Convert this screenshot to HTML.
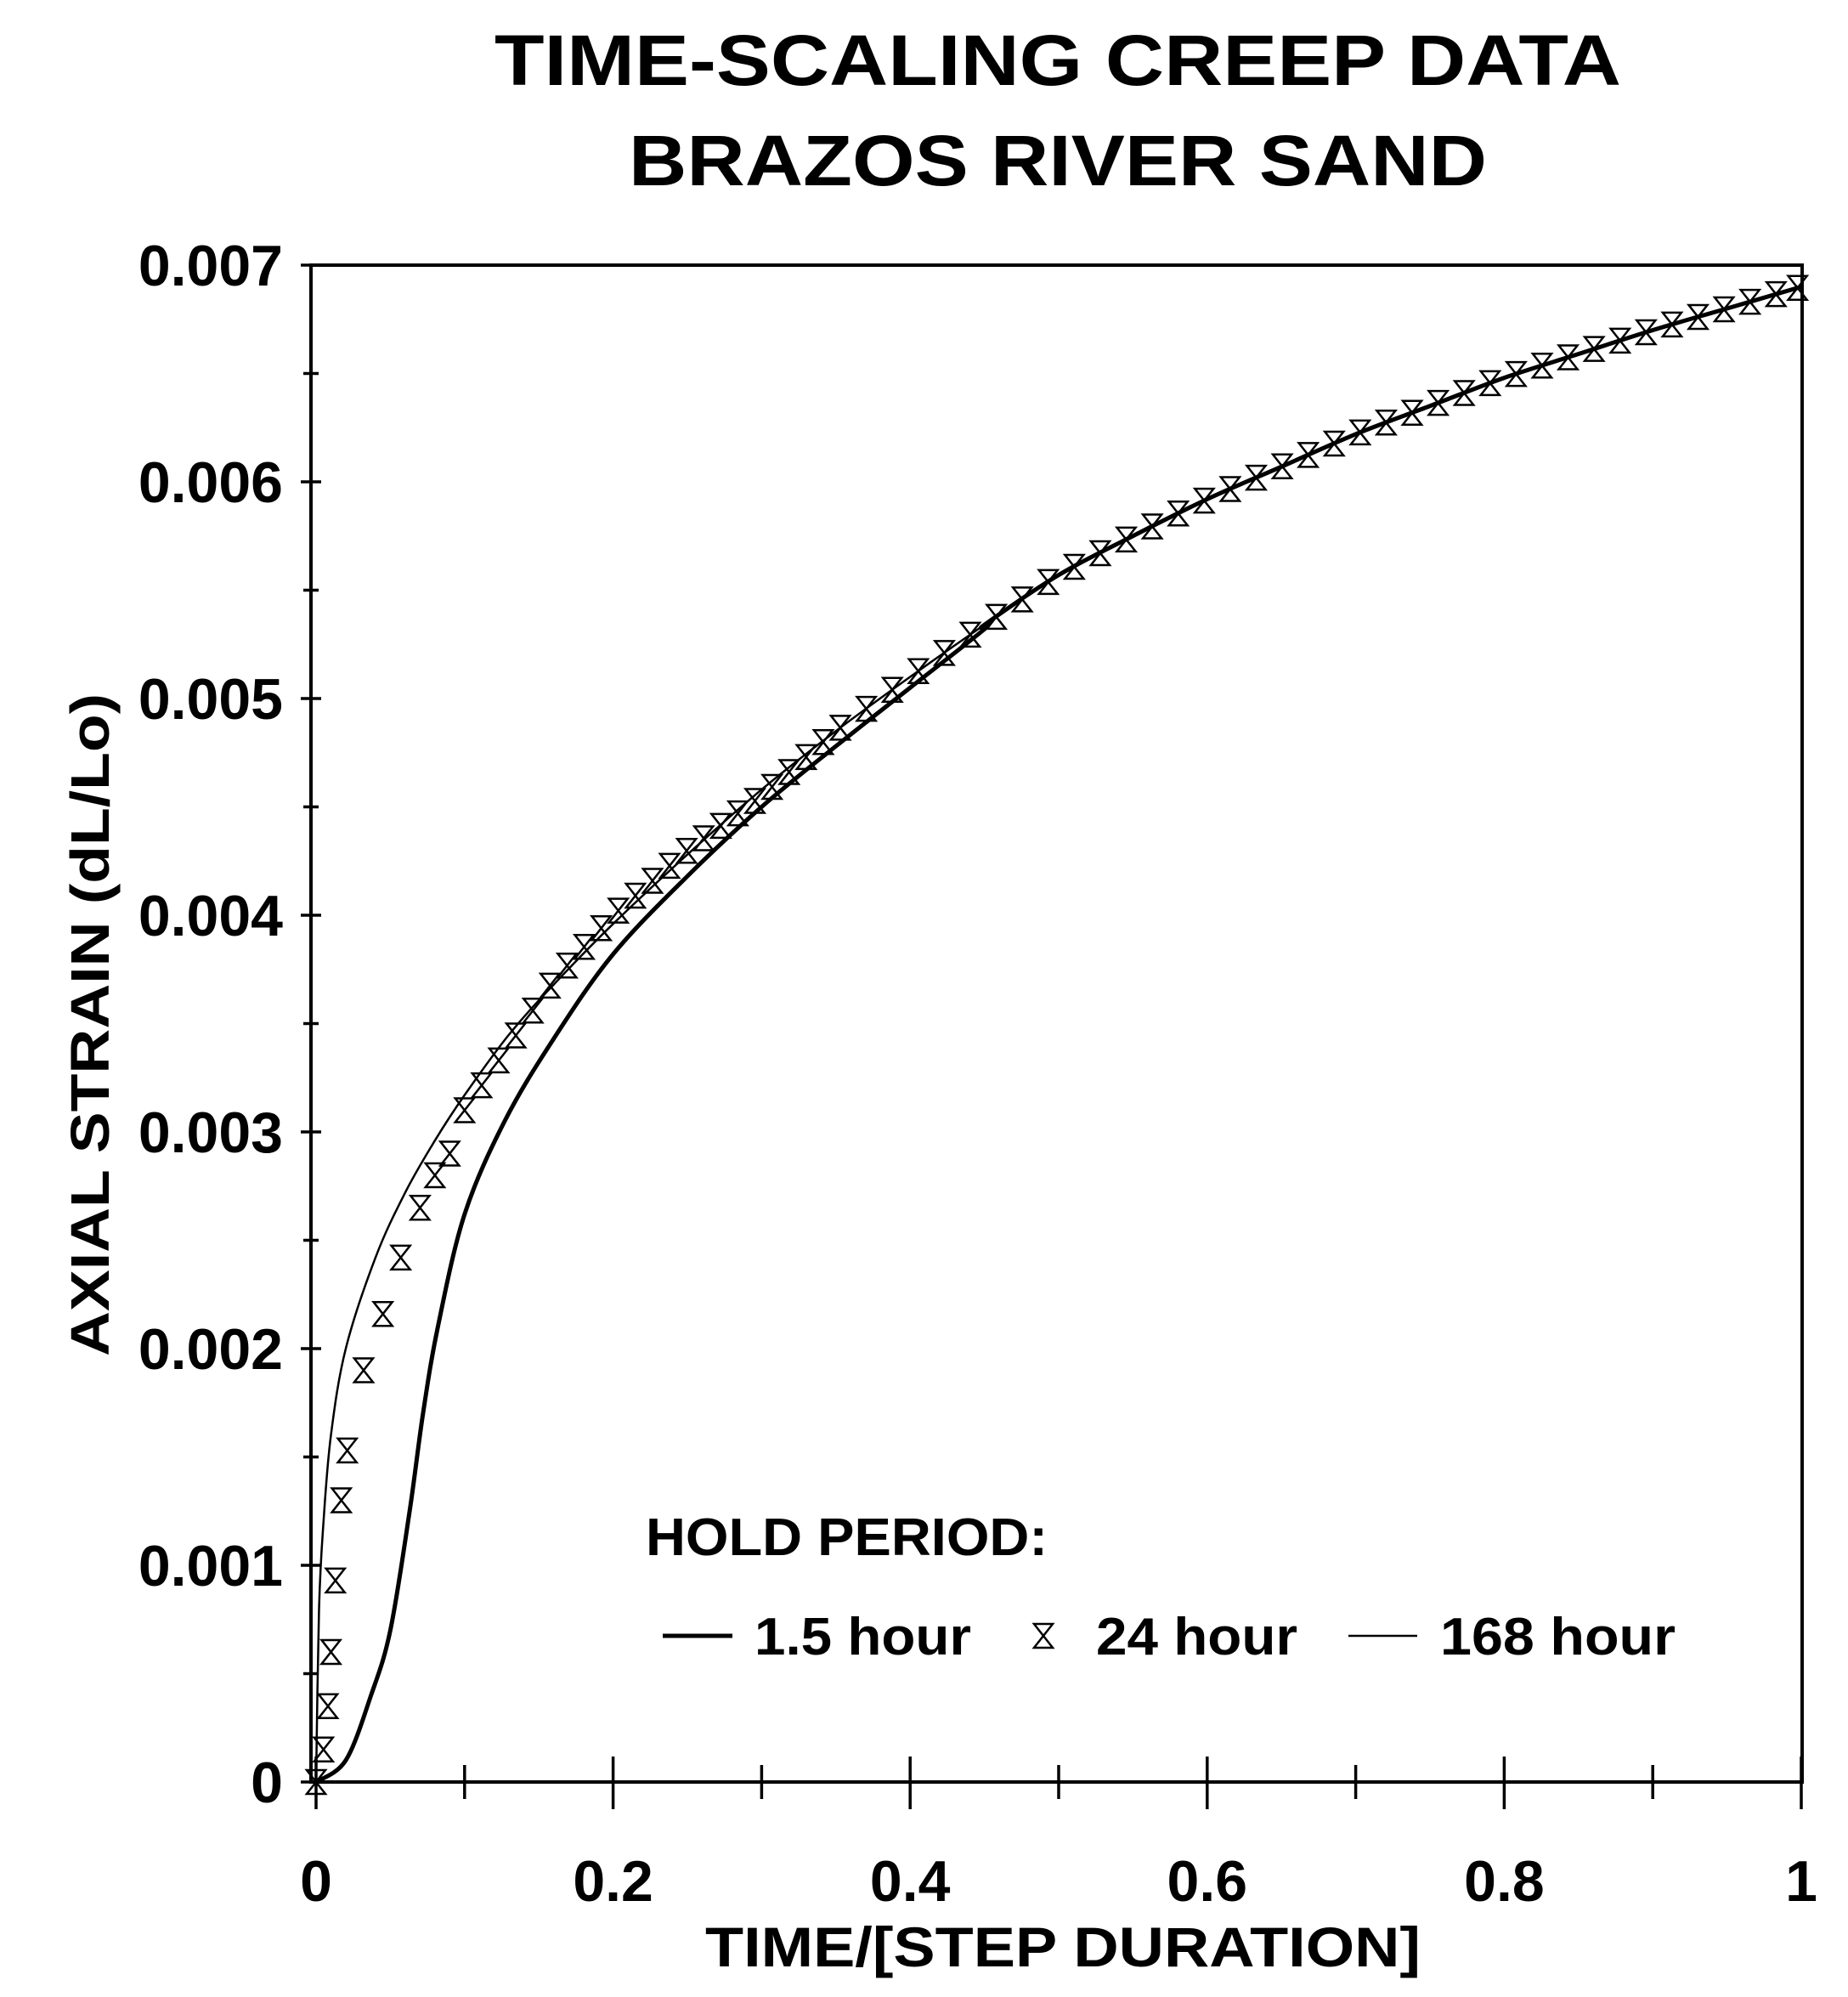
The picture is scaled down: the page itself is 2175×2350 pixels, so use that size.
<!DOCTYPE html>
<html><head><meta charset="utf-8"><style>body{margin:0;background:#fff}svg{display:block}</style></head>
<body>
<svg id="s" width="2175" height="2350" xmlns="http://www.w3.org/2000/svg" font-family="Liberation Sans, Arial, sans-serif" font-weight="bold">
<text x="1245" y="100" font-size="84" text-anchor="middle" textLength="1326" lengthAdjust="spacingAndGlyphs">TIME-SCALING CREEP DATA</text>
<text x="1245" y="218" font-size="84" text-anchor="middle" textLength="1010" lengthAdjust="spacingAndGlyphs">BRAZOS RIVER SAND</text>
<rect x="366" y="312" width="1755" height="1785" fill="none" stroke="#000" stroke-width="4"/>
<g id="ticks" stroke="#000" stroke-width="3.5"></g>
<g id="labels" font-size="68"></g>
<text transform="translate(128,1206) rotate(-90)" font-size="64" text-anchor="middle" textLength="780" lengthAdjust="spacingAndGlyphs">AXIAL STRAIN (dL/Lo)</text>
<text x="1251" y="2314" font-size="66" text-anchor="middle" textLength="842" lengthAdjust="spacingAndGlyphs">TIME/[STEP DURATION]</text>
<g id="curves" fill="none" stroke="#000"></g>
<g id="marks" fill="none" stroke="#000" stroke-width="2.5"></g>
<text x="760" y="1830" font-size="62" textLength="473" lengthAdjust="spacingAndGlyphs">HOLD PERIOD:</text>
<line x1="780" y1="1925" x2="862" y2="1925" stroke="#000" stroke-width="5"/>
<text x="888" y="1947" font-size="62" textLength="255" lengthAdjust="spacingAndGlyphs">1.5 hour</text>
<path d="M1217,1911 L1239,1911 L1217,1939 L1239,1939 Z" fill="none" stroke="#000" stroke-width="2.5"/>
<text x="1290" y="1947" font-size="62" textLength="237" lengthAdjust="spacingAndGlyphs">24 hour</text>
<line x1="1587" y1="1925" x2="1668" y2="1925" stroke="#000" stroke-width="2.5"/>
<text x="1695" y="1947" font-size="62" textLength="277" lengthAdjust="spacingAndGlyphs">168 hour</text>
</svg>
<script>
var X0=372,XS=1748,Y0=2097,YS=255000;
function px(t){return X0+t*XS}function py(v){return Y0-v*YS}
var tk=document.getElementById('ticks'),lb=document.getElementById('labels'),ns='http://www.w3.org/2000/svg';
function el(p,n,a){var e=document.createElementNS(ns,n);for(var k in a)e.setAttribute(k,a[k]);p.appendChild(e);return e}
for(var i=0;i<=14;i++){var y=Y0-i*127.5;var w=(i%2==0)?12:9;el(tk,'line',{x1:366-w,y1:y,x2:366+w,y2:y});}
for(var i=0;i<=7;i++){var t=el(lb,'text',{x:333,y:Y0-i*255+24,'text-anchor':'end'});t.textContent=i==0?'0':(i/1000).toFixed(3);}
for(var i=0;i<=10;i++){var x=X0+i*XS/10;var m=i%2==0;el(tk,'line',{x1:x,y1:Y0-(m?30:20),x2:x,y2:Y0+(m?32:20)});
 if(m){var t=el(lb,'text',{x:x,y:2237,'text-anchor':'middle'});t.textContent=i==0?'0':(i==10?'1':(i/10).toFixed(1));}}
var tail=[[0.45,0.00534],[0.5,0.00557],[0.55,0.00575],[0.6,0.00592],[0.65,0.00607],[0.7,0.00622],[0.75,0.00635],[0.8,0.00648],[0.85,0.00659],[0.9,0.0067],[0.95,0.0068],[1.0,0.0069]];
var thin=[[0,0],[0.002,0.0008],[0.005,0.0012],[0.01,0.0016],[0.02,0.002],[0.04,0.00242],[0.06,0.00272],[0.08,0.00296],[0.1,0.00317],[0.13,0.00345],[0.16,0.00368],[0.2,0.00396],[0.25,0.00428],[0.3,0.00458],[0.35,0.00485],[0.4,0.0051]].concat(tail);
var thick=[[0,0],[0.02,0.0001],[0.037,0.0004],[0.05,0.0007],[0.063,0.00125],[0.072,0.0017],[0.082,0.0021],[0.1,0.00262],[0.127,0.00305],[0.16,0.00343],[0.2,0.00382],[0.25,0.00418],[0.3,0.0045],[0.35,0.00478],[0.4,0.00505],[0.45,0.00532]].concat(tail);
var mk=[[0,0],[0.005,0.00015],[0.008,0.00035],[0.01,0.0006],[0.013,0.00093],[0.017,0.0013],[0.021,0.00153],[0.032,0.0019],[0.045,0.00216],[0.057,0.00242],[0.07,0.00265],[0.08,0.0028],[0.09,0.0029],[0.1,0.0031],[0.12,0.0033],[0.14,0.0035],[0.16,0.0037],[0.2,0.0040],[0.25,0.0043],[0.3,0.00455],[0.35,0.00485],[0.4,0.0051]].concat(tail);
function interp(a,t){for(var i=1;i<a.length;i++)if(t<=a[i][0]){var f=(t-a[i-1][0])/(a[i][0]-a[i-1][0]);return a[i-1][1]+f*(a[i][1]-a[i-1][1]);}return a[a.length-1][1]}
function path(a){var p=a.map(function(q){return[px(q[0]),py(q[1])]});var d='M'+p[0][0]+','+p[0][1];
 for(var i=0;i<p.length-1;i++){var p0=p[Math.max(i-1,0)],p1=p[i],p2=p[i+1],p3=p[Math.min(i+2,p.length-1)];
 d+=' C'+(p1[0]+(p2[0]-p0[0])/6)+','+(p1[1]+(p2[1]-p0[1])/6)+' '+(p2[0]-(p3[0]-p1[0])/6)+','+(p2[1]-(p3[1]-p1[1])/6)+' '+p2[0]+','+p2[1];}return d}
var cv=document.getElementById('curves');
el(cv,'path',{d:path(thin),'stroke-width':2.5});
el(cv,'path',{d:path(thick),'stroke-width':5});
var ms=document.getElementById('marks');
var pts=mk.slice(0,13).map(function(q){return q[0]});
var t=0.1;while(t<=0.9976){pts.push(t);t+=(t<0.35?0.0115:0.0175);}
pts.push(0.9975);
pts.forEach(function(t){var x=px(t),y=py(interp(mk,t));
 el(ms,'path',{d:'M'+(x-11)+','+(y-14)+' L'+(x+11)+','+(y-14)+' L'+(x-11)+','+(y+14)+' L'+(x+11)+','+(y+14)+' Z'});});
</script>
</body></html>
